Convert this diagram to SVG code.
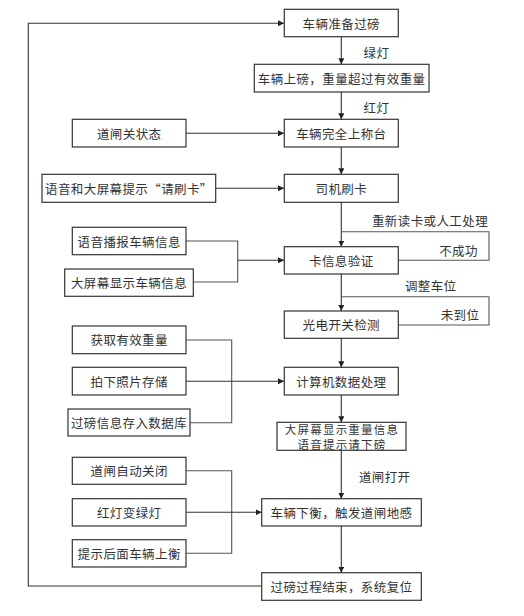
<svg xmlns="http://www.w3.org/2000/svg" width="524" height="616" viewBox="0 0 524 616">
<style>
.box{fill:#fff;stroke:#333;stroke-width:1.2}
.t{font-family:"Noto Sans CJK SC","Liberation Sans",sans-serif;font-size:12.5px;fill:#333;text-anchor:middle;dominant-baseline:central;letter-spacing:0.4px}
.s{font-size:11.5px;letter-spacing:1.2px}
.c{fill:none;stroke:#333;stroke-width:1.1}
.g{fill:none;stroke:#555;stroke-width:1.1}
</style>
<defs>
<marker id="ah" viewBox="0 0 10 10" refX="10" refY="5" markerWidth="6" markerHeight="6" markerUnits="userSpaceOnUse" orient="auto">
<path d="M0,0 L10,5 L0,10 z" fill="#222"/>
</marker>
</defs>
<rect width="524" height="616" fill="#fff"/>
<g id="connectors">
<path class="c" d="M261.7,586 H28.3 V23.3 H284" marker-end="url(#ah)"/>
<path class="c" d="M341.3,36.7 V64.3" marker-end="url(#ah)"/>
<path class="c" d="M341.3,92 V119.3" marker-end="url(#ah)"/>
<path class="c" d="M186,133.3 H284" marker-end="url(#ah)"/>
<path class="c" d="M341.3,147 V174.3" marker-end="url(#ah)"/>
<path class="c" d="M215.7,188.3 H284" marker-end="url(#ah)"/>
<path class="c" d="M341.3,202.3 V246.7" marker-end="url(#ah)"/>
<path class="g" d="M398.3,260.3 H489 V231.7 H341.3"/>
<path class="g" d="M186,241 H237.7 V282 H193.3"/>
<path class="c" d="M237.7,260.3 H284" marker-end="url(#ah)"/>
<path class="c" d="M341.3,274 V311" marker-end="url(#ah)"/>
<path class="g" d="M398.3,325 H489 V296.7 H341.3"/>
<path class="c" d="M341.3,338.3 V367.3" marker-end="url(#ah)"/>
<path class="g" d="M186,340 H231.7 V422.7 H190"/>
<path class="c" d="M186,381.3 H284" marker-end="url(#ah)"/>
<path class="c" d="M341.3,395 V422.3" marker-end="url(#ah)"/>
<path class="c" d="M341.3,450.3 V498.7" marker-end="url(#ah)"/>
<path class="g" d="M186,470.7 H231.7 V553.3 H186"/>
<path class="c" d="M186,512.3 H261.7" marker-end="url(#ah)"/>
<path class="c" d="M341.3,526 V572.7" marker-end="url(#ah)"/>
</g>
<g id="edge-labels">
<text class="t" x="376.5" y="52">绿灯</text>
<text class="t" x="376.5" y="107">红灯</text>
<text class="t" x="430" y="220">重新读卡或人工处理</text>
<text class="t" x="458.5" y="250.5">不成功</text>
<text class="t" x="430.7" y="285">调整车位</text>
<text class="t" x="460" y="314">未到位</text>
<text class="t" x="384.7" y="476.7">道闸打开</text>
</g>
<g id="n1"><rect class="box" x="284.3" y="9.3" width="114" height="27.4"/><text class="t" x="341.3" y="23">车辆准备过磅</text></g>
<g id="n2"><rect class="box" x="254.3" y="64.3" width="174.7" height="27.7"/><text class="t" x="341.6" y="78.2">车辆上磅，重量超过有效重量</text></g>
<g id="n3"><rect class="box" x="284.3" y="119.3" width="114" height="27.7"/><text class="t" x="341.3" y="133.2">车辆完全上称台</text></g>
<g id="n4"><rect class="box" x="72.3" y="119.3" width="113.7" height="27.7"/><text class="t" x="129.2" y="133.2">道闸关状态</text></g>
<g id="n5"><rect class="box" x="284.3" y="174.3" width="114" height="28"/><text class="t" x="341.3" y="188.3">司机刷卡</text></g>
<g id="n6"><rect class="box" x="42" y="174.3" width="173.7" height="28"/><text class="t" x="128.9" y="188.3">语音和大屏幕提示“请刷卡”</text></g>
<g id="n7"><rect class="box" x="284.3" y="246.7" width="114" height="27.3"/><text class="t" x="341.3" y="260.3">卡信息验证</text></g>
<g id="n8"><rect class="box" x="72.3" y="227.3" width="113.7" height="27.4"/><text class="t" x="129.2" y="241">语音播报车辆信息</text></g>
<g id="n9"><rect class="box" x="64.7" y="269" width="128.6" height="27.3"/><text class="t" x="129" y="282.6">大屏幕显示车辆信息</text></g>
<g id="n10"><rect class="box" x="284.3" y="311" width="114" height="27.3"/><text class="t" x="341.3" y="324.7">光电开关检测</text></g>
<g id="n11"><rect class="box" x="72.3" y="326" width="113.7" height="27.7"/><text class="t" x="129.2" y="339.9">获取有效重量</text></g>
<g id="n12"><rect class="box" x="72.3" y="367.3" width="113.7" height="27.7"/><text class="t" x="129.2" y="381.2">拍下照片存储</text></g>
<g id="n13"><rect class="box" x="284.3" y="367.3" width="114" height="27.7"/><text class="t" x="341.3" y="381.2">计算机数据处理</text></g>
<g id="n14"><rect class="box" x="68" y="409" width="122" height="27"/><text class="t" x="129" y="422.5">过磅信息存入数据库</text></g>
<g id="n15"><rect class="box" x="277" y="422.3" width="129" height="28"/><text class="t s" x="342" y="429.2">大屏幕显示重量信息</text><text class="t s" x="342" y="443.6">语音提示请下磅</text></g>
<g id="n16"><rect class="box" x="72.3" y="457.3" width="113.7" height="27"/><text class="t" x="129.2" y="470.8">道闸自动关闭</text></g>
<g id="n17"><rect class="box" x="72.3" y="498.7" width="113.7" height="27.3"/><text class="t" x="129.2" y="512.3">红灯变绿灯</text></g>
<g id="n18"><rect class="box" x="72.3" y="539.7" width="113.7" height="27.3"/><text class="t" x="129.2" y="553.3">提示后面车辆上衡</text></g>
<g id="n19"><rect class="box" x="261.7" y="498.7" width="159.6" height="27.3"/><text class="t" x="341.5" y="512.3">车辆下衡，触发道闸地感</text></g>
<g id="n20"><rect class="box" x="261.7" y="572.7" width="159.6" height="27.6"/><text class="t" x="341.5" y="586.5">过磅过程结束，系统复位</text></g>
</svg>
